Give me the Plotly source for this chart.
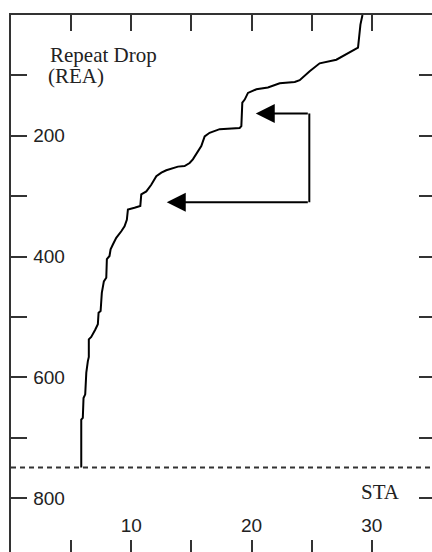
import plotly.graph_objects as go

# Repeat-drop profile: station (STA) vs. depth (REA), traced from the bottom up
sta = [5.84, 5.84, 5.97, 6.03, 6.17, 6.26, 6.39, 6.47, 6.47, 6.67,
       7.00, 7.22, 7.28, 7.45, 7.55, 7.72, 7.92, 7.97, 8.19, 8.28,
       8.47, 8.75, 9.17, 9.44, 9.63, 9.72, 10.27, 10.75, 10.83, 11.25,
       11.66, 12.08, 12.50, 12.91, 13.88, 14.43, 14.85, 15.12, 15.82, 16.10,
       16.51, 17.35, 19.01, 19.15, 19.23, 19.43, 19.70, 20.40, 21.36, 22.34,
       23.59, 24.00, 24.83, 25.66, 27.05, 28.85, 29.05, 29.22]
rea = [749, 670, 667, 634, 628, 592, 573, 566, 537, 533,
       521, 512, 493, 490, 460, 441, 435, 404, 399, 388,
       380, 369, 358, 350, 339, 322, 319, 316, 297, 292,
       281, 267, 261, 257, 251, 250, 245, 239, 217, 201,
       195, 189, 187, 184, 145, 140, 129, 123, 120, 113,
       111, 108, 93, 80, 74, 54, 16, 0]

# Reference depth drawn as a dashed horizontal line
base_depth = 749

# Bracket with two arrows pointing at the steps of the profile
bracket_sta = 24.8
arrow_tip_sta = [20.35, 12.95]
arrow_tip_rea = [163, 310]

# Axis ticks
x_ticks = [5, 10, 15, 20, 25, 30]
x_ticktext = ["", "10", "", "20", "", "30"]
y_ticks = [100, 200, 300, 400, 500, 600, 700, 800]
y_ticktext = ["", "200", "", "400", "", "600", "", "800"]

X_RANGE = [0, 35]
Y_RANGE = [889, 0]
INK = "#333333"

fig = go.Figure()

fig.add_trace(go.Scatter(x=sta, y=rea, mode="lines",
                         line=dict(color="black", width=2),
                         hoverinfo="skip", showlegend=False))

fig.add_trace(go.Scatter(x=X_RANGE, y=[base_depth, base_depth], mode="lines",
                         line=dict(color=INK, width=2, dash="5px,4px"),
                         hoverinfo="skip", showlegend=False))

# vertical part of the bracket
fig.add_trace(go.Scatter(x=[bracket_sta, bracket_sta], y=arrow_tip_rea, mode="lines",
                         line=dict(color="black", width=2),
                         hoverinfo="skip", showlegend=False))

annotations = []
for tx, ty in zip(arrow_tip_sta, arrow_tip_rea):
    annotations.append(dict(x=tx, y=ty, ax=bracket_sta, ay=ty,
                            xref="x", yref="y", axref="x", ayref="y",
                            text="", showarrow=True, arrowhead=2,
                            arrowsize=1.9, arrowwidth=2, arrowcolor="black"))

serif = dict(family="Liberation Serif", size=21, color="#222222")
annotations += [
    dict(x=3.1, y=66, xref="x", yref="y", text="Repeat Drop", showarrow=False,
         xanchor="left", yanchor="middle", font=serif),
    dict(x=2.95, y=101, xref="x", yref="y", text="(REA)", showarrow=False,
         xanchor="left", yanchor="middle", font=serif),
    dict(x=28.9, y=790, xref="x", yref="y", text="STA", showarrow=False,
         xanchor="left", yanchor="middle", font=serif),
]

tickfont = dict(family="Liberation Sans", size=19, color="#222222")

fig.update_layout(
    width=432, height=552,
    margin=dict(l=11, r=0, t=15, b=0),
    paper_bgcolor="white", plot_bgcolor="white",
    annotations=annotations,
    xaxis=dict(range=X_RANGE, side="bottom", showgrid=False, zeroline=False,
               showline=False, ticks="inside", ticklen=12, tickwidth=2,
               tickcolor=INK, tickvals=x_ticks, ticktext=x_ticktext,
               ticklabelposition="inside", ticklabelstandoff=5,
               tickfont=tickfont),
    xaxis2=dict(range=X_RANGE, side="top", overlaying="x", showgrid=False,
                zeroline=False, showline=True, linewidth=2, linecolor=INK,
                ticks="inside", ticklen=16, tickwidth=2, tickcolor=INK,
                tickvals=x_ticks, showticklabels=False),
    yaxis=dict(range=Y_RANGE, side="left", showgrid=False, zeroline=False,
               showline=True, linewidth=2, linecolor=INK,
               ticks="inside", ticklen=16, tickwidth=2, tickcolor=INK,
               tickvals=y_ticks, ticktext=y_ticktext,
               ticklabelposition="inside", ticklabelstandoff=7,
               tickfont=tickfont),
    yaxis2=dict(range=Y_RANGE, side="right", overlaying="y", showgrid=False,
                zeroline=False, showline=False, ticks="inside", ticklen=13,
                tickwidth=2, tickcolor=INK, tickvals=y_ticks,
                showticklabels=False),
)

# empty traces so the overlay axes are drawn
fig.add_trace(go.Scatter(x=[None], y=[None], xaxis="x2", yaxis="y2",
                         showlegend=False, hoverinfo="skip"))

fig.write_html("out.html")
